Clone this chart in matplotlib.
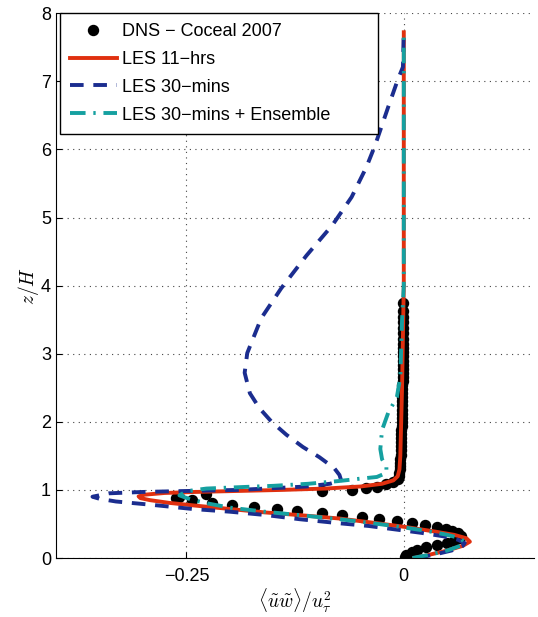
import matplotlib.pyplot as plt

# DNS - Coceal 2007 (x = <uw>/u_tau^2, z/H)
dns_x = [0.001, 0.003, 0.009, 0.015, 0.026, 0.038, 0.050, 0.058, 0.064, 0.066,
         0.062, 0.056, 0.048, 0.038, 0.024, 0.009, -0.008, -0.028, -0.048, -0.071,
         -0.094, -0.123, -0.146, -0.172, -0.197, -0.221, -0.243, -0.262, -0.258, -0.227,
         -0.094, -0.060, -0.043, -0.031, -0.020, -0.012, -0.007, -0.005,
         -0.005, -0.004, -0.004, -0.004, -0.004, -0.003, -0.003, -0.003, -0.003, -0.003,
         -0.003, -0.003, -0.002, -0.002, -0.002, -0.002, -0.002, -0.002, -0.002, -0.002,
         -0.002, -0.002, -0.002, -0.001, -0.001, -0.001, -0.001, -0.001, -0.001, -0.001,
         -0.001, -0.001, -0.001, -0.001, -0.001, -0.001, -0.001, -0.001, -0.001, -0.001]
dns_z = [0.02, 0.05, 0.09, 0.12, 0.16, 0.19, 0.22, 0.25, 0.29, 0.33,
         0.37, 0.40, 0.43, 0.46, 0.48, 0.51, 0.54, 0.57, 0.60, 0.63,
         0.66, 0.69, 0.72, 0.75, 0.78, 0.81, 0.85, 0.88, 0.90, 0.94,
         0.98, 1.00, 1.03, 1.05, 1.09, 1.12, 1.16, 1.20,
         1.25, 1.30, 1.35, 1.40, 1.46, 1.52, 1.58, 1.64, 1.70, 1.76,
         1.82, 1.88, 1.94, 2.00, 2.06, 2.12, 2.18, 2.24, 2.30, 2.36,
         2.42, 2.48, 2.54, 2.60, 2.66, 2.72, 2.78, 2.84, 2.90, 2.96,
         3.02, 3.08, 3.14, 3.22, 3.30, 3.38, 3.46, 3.54, 3.62, 3.74]

# LES 11-hrs
les11_x = [0.012, 0.030, 0.050, 0.068, 0.076, 0.072, 0.058, 0.035, 0.005, -0.030,
           -0.074, -0.120, -0.160, -0.200, -0.240, -0.270, -0.292, -0.303, -0.305, -0.298,
           -0.275, -0.240, -0.190, -0.140, -0.090, -0.050, -0.025, -0.012, -0.007, -0.005,
           -0.004, -0.002, 0.000, 0.000]
les11_z = [0.00, 0.05, 0.11, 0.18, 0.24, 0.29, 0.34, 0.39, 0.45, 0.51,
           0.58, 0.63, 0.67, 0.72, 0.77, 0.81, 0.85, 0.88, 0.905, 0.93,
           0.955, 0.97, 0.985, 1.00, 1.02, 1.05, 1.09, 1.14, 1.20, 1.30,
           1.50, 2.50, 4.00, 7.72]

# LES 30-mins
les30_x = [0.015, 0.035, 0.055, 0.068, 0.070, 0.062, 0.045, 0.020, -0.010, -0.040,
           -0.074, -0.120, -0.158, -0.200, -0.243, -0.289, -0.331, -0.350, -0.358, -0.339,
           -0.300, -0.266, -0.190, -0.112, -0.085, -0.072, -0.074, -0.080, -0.097, -0.116,
           -0.135, -0.152, -0.166, -0.177, -0.183, -0.180, -0.164, -0.141, -0.112, -0.082,
           -0.060, -0.043, -0.033, -0.018, -0.007, -0.001, 0.000]
les30_z = [0.00, 0.05, 0.11, 0.18, 0.22, 0.27, 0.32, 0.37, 0.42, 0.47,
           0.51, 0.57, 0.63, 0.68, 0.72, 0.78, 0.83, 0.87, 0.90, 0.95,
           0.97, 0.98, 1.00, 1.05, 1.09, 1.14, 1.22, 1.32, 1.48, 1.63,
           1.81, 2.00, 2.20, 2.42, 2.72, 3.01, 3.52, 3.96, 4.44, 4.89,
           5.30, 5.74, 6.06, 6.62, 7.02, 7.21, 7.75]

# LES 30-mins + Ensemble
ens_x = [0.010, 0.030, 0.050, 0.065, 0.070, 0.065, 0.050, 0.030, 0.000, -0.035,
         -0.074, -0.120, -0.160, -0.200, -0.225, -0.245, -0.258, -0.250, -0.227, -0.180,
         -0.150, -0.110, -0.075, -0.054, -0.031, -0.020, -0.020, -0.025, -0.027, -0.025,
         -0.018, -0.008, -0.004, -0.002, 0.000, 0.000]
ens_z = [0.00, 0.05, 0.11, 0.18, 0.23, 0.29, 0.34, 0.39, 0.45, 0.51,
         0.57, 0.63, 0.68, 0.74, 0.80, 0.86, 0.92, 0.98, 1.02, 1.045,
         1.06, 1.09, 1.13, 1.16, 1.19, 1.25, 1.34, 1.45, 1.60, 1.88,
         2.13, 2.36, 2.66, 3.50, 4.00, 7.65]

plt.rcParams['font.family'] = ['Liberation Sans', 'DejaVu Sans']
plt.rcParams['mathtext.fontset'] = 'cm'

fig = plt.figure(figsize=(5.38, 6.17), dpi=100)
ax = fig.add_axes([0.104, 0.0956, 0.889, 0.883])

ax.plot(dns_x, dns_z, 'o', color='black', markersize=7.2, label='DNS \u2212 Coceal 2007')
ax.plot(les11_x, les11_z, '-', color='#e0300f', lw=2.8, label='LES 11\u2212hrs')
ax.plot(les30_x, les30_z, '--', color='#1b2d8f', lw=2.8, dashes=(3.5, 2.5),
        label='LES 30\u2212mins')
ax.plot(ens_x, ens_z, '-.', color='#15a0a0', lw=2.8, dashes=(4, 2, 0.6, 2),
        label='LES 30\u2212mins + Ensemble')

ax.set_xlim(-0.4, 0.15)
ax.set_ylim(0, 8)
ax.set_xticks([-0.25, 0])
ax.set_xticklabels(['\u22120.25', '0'])
ax.set_yticks(range(0, 9))
ax.tick_params(direction='in', labelsize=13, length=4)
ax.tick_params(axis='x', pad=7)
ax.grid(True, linestyle=(0, (1, 4)), color='#444444', lw=0.8)
ax.spines['top'].set_visible(False)
ax.spines['right'].set_visible(False)

ax.set_xlabel(r'$\langle\tilde{u}\tilde{w}\rangle/u_\tau^2$', fontsize=14, labelpad=1)
ax.set_ylabel(r'$z/H$', fontsize=14, labelpad=0)

# wide box like the matlab legend
leg = ax.legend(loc='upper left', bbox_to_anchor=(0.008, 0.0, 0.665, 1.0), mode='expand',
                borderaxespad=0, fontsize=13, handlelength=2.6, handletextpad=0.3,
                fancybox=False, framealpha=1, edgecolor='black',
                labelspacing=0.6, borderpad=0.55)
leg.get_frame().set_linewidth(1.0)

plt.savefig('out.png', dpi=100)
